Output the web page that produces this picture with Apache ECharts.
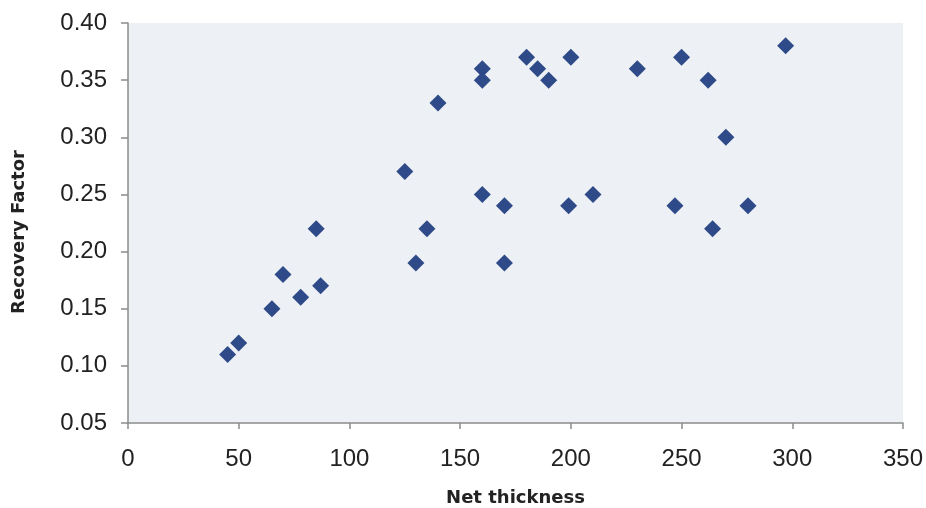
<!DOCTYPE html>
<html>
<head>
<meta charset="utf-8">
<script src="https://cdn.jsdelivr.net/npm/echarts@6/dist/echarts.min.js"></script>
<style>html,body{margin:0;padding:0;background:#fff}#c{width:926px;height:508px}</style>
</head>
<body>
<div id="c"></div>
<script>
var netThickness = [45, 50, 65, 70, 78, 85, 87, 125, 130, 135, 140, 160, 160, 160, 170, 170, 180, 185, 190, 200, 199, 210, 230, 247, 250, 262, 264, 270, 280, 297];
var recoveryFactor = [0.11, 0.12, 0.15, 0.18, 0.16, 0.22, 0.17, 0.27, 0.19, 0.22, 0.33, 0.36, 0.35, 0.25, 0.24, 0.19, 0.37, 0.36, 0.35, 0.37, 0.24, 0.25, 0.36, 0.24, 0.37, 0.35, 0.22, 0.30, 0.24, 0.38];
var xTicks = [0, 50, 100, 150, 200, 250, 300, 350];
var yTicks = [0.05, 0.10, 0.15, 0.20, 0.25, 0.30, 0.35, 0.40];

var points = netThickness.map(function (x, i) { return [x, recoveryFactor[i]]; });

var chart = echarts.init(document.getElementById('c'), null, {renderer: 'canvas'});
chart.setOption({
  animation: false,
  backgroundColor: '#ffffff',
  grid: {left: 128, right: 23, top: 23, bottom: 85, show: true, backgroundColor: '#edf0f4', borderWidth: 0,
    containLabel: false, outerBoundsMode: 'none'},
  xAxis: {
    type: 'value', min: xTicks[0], max: xTicks[xTicks.length - 1], interval: 50,
    name: 'Net thickness', nameLocation: 'middle', nameGap: 66,
    nameTextStyle: {fontFamily: 'DejaVu Sans', fontWeight: 'bold', fontSize: 18, color: '#222', verticalAlign: 'top'},
    axisLine: {show: true, lineStyle: {color: '#8c8c8c', width: 1.5}},
    axisTick: {show: true, inside: false, length: 6, lineStyle: {color: '#8c8c8c', width: 1.5}},
    axisLabel: {fontFamily: 'Liberation Sans', fontSize: 24, color: '#222', margin: 24},
    splitLine: {show: false}
  },
  yAxis: {
    type: 'value', min: yTicks[0], max: yTicks[yTicks.length - 1], interval: 0.05,
    name: 'Recovery Factor', nameLocation: 'middle', nameGap: 100, nameRotate: 90,
    nameTextStyle: {fontFamily: 'DejaVu Sans', fontWeight: 'bold', fontSize: 18, color: '#222', padding: [0, 18, 0, 0]},
    axisLine: {show: true, lineStyle: {color: '#8c8c8c', width: 1.5}},
    axisTick: {show: true, inside: false, length: 7, lineStyle: {color: '#8c8c8c', width: 1.5}},
    axisLabel: {fontFamily: 'Liberation Sans', fontSize: 24, color: '#222', margin: 21,
      formatter: function (v) { return v.toFixed(2); }},
    splitLine: {show: false}
  },
  series: [{
    type: 'scatter',
    data: points,
    symbol: 'diamond',
    symbolSize: 17,
    itemStyle: {color: '#2f4a88', opacity: 1}
  }]
});
</script>
</body>
</html>
